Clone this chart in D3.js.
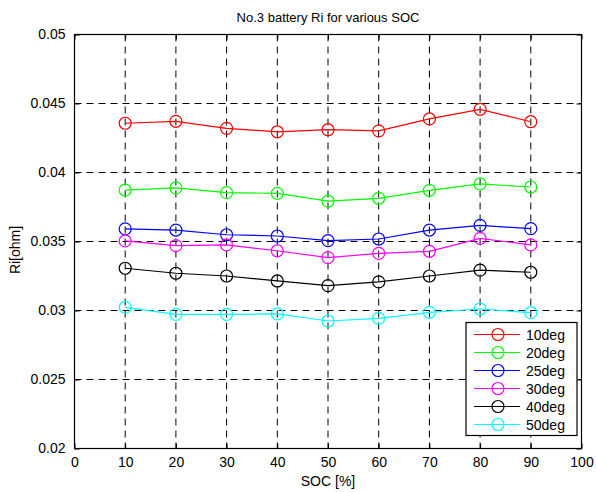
<!DOCTYPE html>
<html><head><meta charset="utf-8">
<script src="https://cdn.jsdelivr.net/npm/d3@7"></script>
<style>body{margin:0;background:#fff;} text{font-family:"Liberation Sans",Arial,sans-serif;}</style>
</head><body>
<svg id="c" width="596" height="492"></svg>
<script>
const soc = [10,20,30,40,50,60,70,80,90];
const seriesNames = ["10deg","20deg","25deg","30deg","40deg","50deg"];
const seriesColors = ["#ff0000","#00ff00","#0000ff","#ff00ff","#000000","#00ffff"];
const ri10 = [0.04357,0.04371,0.04320,0.04295,0.04310,0.04302,0.04388,0.04458,0.04368];
const ri20 = [0.03873,0.03888,0.03854,0.03849,0.03793,0.03813,0.03871,0.03917,0.03895];
const ri25 = [0.03591,0.03583,0.03549,0.03540,0.03506,0.03518,0.03583,0.03617,0.03593];
const ri30 = [0.03504,0.03470,0.03475,0.03433,0.03383,0.03414,0.03429,0.03523,0.03475];
const ri40 = [0.03306,0.03270,0.03250,0.03214,0.03180,0.03207,0.03250,0.03293,0.03277];
const ri50 = [0.03023,0.02972,0.02972,0.02975,0.02924,0.02943,0.02987,0.03011,0.02984];
const xTicks = [0,10,20,30,40,50,60,70,80,90,100];
const yTicks = [0.02,0.025,0.03,0.035,0.04,0.045,0.05];
const title = "No.3 battery Ri for various SOC";
const xLabel = "SOC [%]";
const yLabel = "Ri[ohm]";
const allSeries = [ri10,ri20,ri25,ri30,ri40,ri50];

const svg = d3.select("#c");
const L=74.5, R=581.5, T=34.5, B=448.5;
const x = d3.scaleLinear().domain([0,100]).range([L,R]);
const y = d3.scaleLinear().domain([0.02,0.05]).range([B,T]);

// grid
const g = svg.append("g");
g.selectAll(".gx").data(xTicks.slice(1,-1)).enter().append("line")
  .attr("x1",d=>x(d)).attr("x2",d=>x(d)).attr("y1",T).attr("y2",B)
  .attr("stroke","#000").attr("stroke-width",1).attr("stroke-dasharray","7,5");
g.selectAll(".gy").data(yTicks.slice(1,-1)).enter().append("line")
  .attr("y1",d=>y(d)).attr("y2",d=>y(d)).attr("x1",L).attr("x2",R)
  .attr("stroke","#000").attr("stroke-width",1).attr("stroke-dasharray","7,5");

// axes
const xAxis = d3.axisBottom(x).tickValues(xTicks).tickSize(-5).tickPadding(9).tickFormat(d3.format("d"));
const yAxis = d3.axisLeft(y).tickValues(yTicks).tickSize(-5).tickPadding(9).tickFormat(d=>d3.format("")(+d.toFixed(3)));
const xa = svg.append("g").attr("transform",`translate(0,${B})`).call(xAxis);
const ya = svg.append("g").attr("transform",`translate(${L},0)`).call(yAxis);
const xt = svg.append("g").attr("transform",`translate(0,${T})`).call(d3.axisTop(x).tickValues(xTicks).tickSize(-5).tickFormat(""));
const yr = svg.append("g").attr("transform",`translate(${R},0)`).call(d3.axisRight(y).tickValues(yTicks).tickSize(-5).tickFormat(""));
[xa,ya,xt,yr].forEach(a=>{
  a.select(".domain").remove();
  a.selectAll("line").attr("stroke","#000");
  a.selectAll("text").attr("font-size","14px").attr("fill","#000").style("font-family","'Liberation Sans',Arial,sans-serif");
});
svg.append("rect").attr("x",L).attr("y",T).attr("width",R-L).attr("height",B-T)
  .attr("fill","none").attr("stroke","#000").attr("stroke-width",1.2);

// series
const line = d3.line().x((d,i)=>x(soc[i])).y(d=>y(d));
allSeries.forEach((s,k)=>{
  svg.append("path").attr("d",line(s)).attr("fill","none").attr("stroke",seriesColors[k]).attr("stroke-width",1.2);
  svg.selectAll(null).data(s).enter().append("circle")
    .attr("cx",(d,i)=>x(soc[i])).attr("cy",d=>y(d)).attr("r",6)
    .attr("fill","none").attr("stroke",seriesColors[k]).attr("stroke-width",1.2);
});

// labels
svg.append("text").attr("x",328).attr("y",22).attr("text-anchor","middle").attr("font-size","13px").text(title);
svg.append("text").attr("x",328).attr("y",486).attr("text-anchor","middle").attr("font-size","14px").text(xLabel);
svg.append("text").attr("transform","translate(20,250) rotate(-90)").attr("text-anchor","middle").attr("font-size","14px").text(yLabel);

// legend
const lg = svg.append("g");
lg.append("rect").attr("x",466).attr("y",322.5).attr("width",111).attr("height",113).attr("fill","#fff").attr("stroke","#000").attr("stroke-width",1.2);
seriesNames.forEach((n,k)=>{
  const yy = 334.5 + k*18;
  lg.append("line").attr("x1",474).attr("x2",520).attr("y1",yy).attr("y2",yy).attr("stroke",seriesColors[k]).attr("stroke-width",1.2);
  lg.append("circle").attr("cx",498).attr("cy",yy).attr("r",6).attr("fill","none").attr("stroke",seriesColors[k]).attr("stroke-width",1.2);
  lg.append("text").attr("x",526).attr("y",yy+5).attr("font-size","14px").text(n);
});
</script>
</body></html>
